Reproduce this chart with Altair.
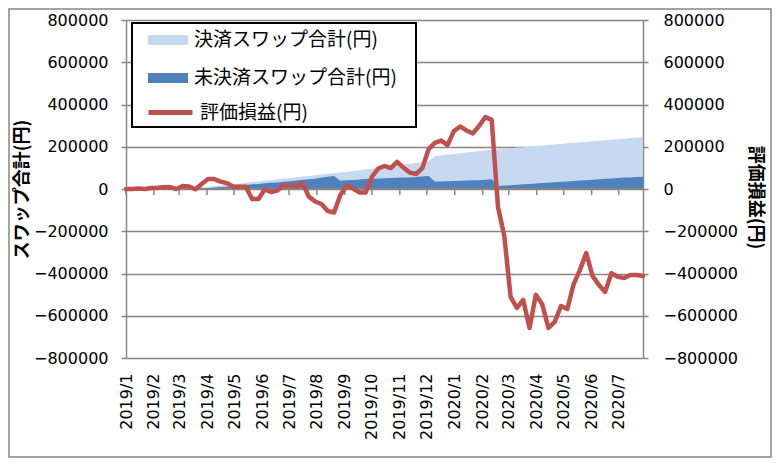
import altair as alt
import pandas as pd

# ---- data (weekly) ----
start_date = "2019-01-01"
n_weeks = 83

settled = [0, 0, 0, 0, 0, 0, 0, 0, 0, 0, 0,
           3000, 6000, 10000, 13000, 16000, 20000, 23000, 26000, 29000, 33000,
           36000, 39000, 42000, 46000, 49000, 52000, 56000, 59000, 62000, 65000,
           69000, 72000, 74000,
           78000, 81000, 85000, 89000, 93000, 96000, 100000, 104000, 108000, 111000,
           115000, 119000, 123000, 126000, 131000, 156000,
           159000, 163000, 166000, 169000, 173000, 176000, 179000, 183000, 186000,
           188000, 191000, 193000, 196000, 198000, 201000, 203000, 206000, 208000,
           211000, 213000, 216000, 218000, 221000, 223000, 226000, 228000, 231000,
           233000, 236000, 238000, 241000, 243000, 246000]

unsettled = [0, 0, 0, 0, 0, 0, 0, 0, 0, 0, 0,
             1000, 3000, 5000, 7000, 9000, 11000, 13000, 16000, 19000, 22000,
             24000, 27000, 29000, 31000, 34000, 37000, 40000, 43000, 46000, 49000,
             54000, 58000, 61000,
             39000, 41000, 43000, 45000, 47000, 49000, 50000, 51000, 52000, 53000,
             54000, 55000, 57000, 59000, 61000,
             35000, 36000, 37000, 38000, 39000, 40000, 41000, 42000, 44000, 46000,
             14000, 16000, 18000, 20000, 22000, 24000, 26000, 28000, 30000, 32000,
             34000, 36000, 38000, 40000, 42000, 44000, 46000, 48000, 50000, 52000,
             54000, 55000, 57000, 58000]

profit = [0, 0, 2000, 0, 5000, 6000, 8000, 9000, 0, 14000,
          12000, -1000, 24000, 47000, 47000, 35000, 28000, 11000, 11000, 11000,
          -47000, -47000, -2000, -14000, -7000, 16000, 16000, 11000, 28000, -36000,
          -59000, -71000, -104000, -111000, -28000, 16000, 2000, -16000, -17000, 57000,
          97000, 109000, 99000, 128000, 102000, 78000, 71000, 99000, 189000, 218000,
          229000, 208000, 274000, 296000, 277000, 263000, 298000, 340000, 327000, -85000,
          -222000, -511000, -563000, -525000, -658000, -501000, -544000, -658000, -629000, -554000,
          -568000, -450000, -383000, -303000, -412000, -454000, -487000, -398000, -416000, -421000,
          -407000, -407000, -412000]

months = [(2019, m) for m in range(1, 13)] + [(2020, m) for m in range(1, 8)]
y_ticks = [-800000, -600000, -400000, -200000, 0, 200000, 400000, 600000, 800000]

SETTLED = "決済スワップ合計(円)"
UNSETTLED = "未決済スワップ合計(円)"
PROFIT = "評価損益(円)"

dates = [d.strftime("%Y-%m-%dT00:00:00Z")
         for d in pd.date_range(start_date, periods=n_weeks, freq="7D")]

df_area = pd.DataFrame({
    "date": dates + dates,
    "value": settled + unsettled,
    "series": [SETTLED] * n_weeks + [UNSETTLED] * n_weeks,
})
df_line = pd.DataFrame({"date": dates, "value": profit, "series": [PROFIT] * n_weeks})
df_months = pd.DataFrame({"date": ["%d-%02d-01T00:00:00Z" % (y, m) for y, m in months]})

GREY = "#868686"
NUM_FONT = "DejaVu Sans"
JP_FONT = "Noto Sans CJK JP"

x_scale = alt.Scale(type="utc",
                    domain=[alt.DateTime(year=2019, month=1, date=1, utc=True),
                            alt.DateTime(year=2020, month=7, date=28, utc=True)])
x_axis = alt.Axis(values=[alt.DateTime(year=y, month=m, date=1, utc=True) for y, m in months],
                  labelExpr="utcFormat(datum.value, '%Y/%-m')",
                  labelAngle=270, labelAlign="right", labelBaseline="middle",
                  labelFont=NUM_FONT, labelFontSize=16, labelColor="black",
                  labelPadding=15, ticks=False, tickSize=0, domain=False, grid=False,
                  title="", labelOverlap=False)
x_enc = alt.X("date:T", scale=x_scale, axis=x_axis)

y_scale_l = alt.Scale(domain=[-800000, 800000], nice=False)
y_scale_r = alt.Scale(domain=[-800000, 800000], nice=False)

left_axis = alt.Axis(title="スワップ合計(円)", values=y_ticks, format="d",
                     grid=True, gridColor=GREY, gridWidth=1.5,
                     domainColor=GREY, domainWidth=1.5,
                     tickColor=GREY, tickSize=5, tickWidth=1.5,
                     labelPadding=13, labelFont=NUM_FONT, labelFontSize=16, labelColor="black",
                     titleFont=JP_FONT, titleFontSize=18, titleFontWeight="bold",
                     titleColor="black", titleX=-104, titleY=169, titleAngle=270,
                     titleAlign="center", titleBaseline="middle")
right_axis = alt.Axis(title="評価損益(円)", orient="right", values=y_ticks, format="d",
                      grid=False, domainColor=GREY, domainWidth=1.5,
                      tickColor=GREY, tickSize=5, tickWidth=1.5,
                      labelPadding=15, labelFont=NUM_FONT, labelFontSize=16, labelColor="black",
                      titleFont=JP_FONT, titleFontSize=18, titleFontWeight="bold",
                      titleColor="black", titleX=111, titleY=177, titleAngle=90,
                      titleAlign="center", titleBaseline="middle")

fill_scale = alt.Scale(domain=[SETTLED, UNSETTLED], range=["#C6D9F1", "#4F81BD"])
fill_legend = alt.Legend(title=None, orient="none", legendX=22, legendY=0, padding=0,
                         symbolType="M-1,-0.25H1V0.25H-1Z", symbolSize=1600,
                         symbolStrokeWidth=0, symbolOpacity=1,
                         labelFont=JP_FONT, labelFontSize=19, labelColor="black",
                         labelOffset=6, labelLimit=400, rowPadding=8)

base_area = alt.Chart(df_area).mark_area(opacity=1).encode(
    x=x_enc,
    y=alt.Y("value:Q", scale=y_scale_l, axis=left_axis),
    fill=alt.Fill("series:N", scale=fill_scale, legend=fill_legend),
)
area_settled = base_area.transform_filter(alt.datum.series == SETTLED)
area_unsettled = base_area.transform_filter(alt.datum.series == UNSETTLED)

zero_rule = alt.Chart(df_months).mark_rule(color=GREY, strokeWidth=1.5).encode(
    y=alt.datum(0, type="quantitative"))

month_ticks = alt.Chart(df_months).mark_tick(
    orient="vertical", color=GREY, size=6, thickness=1.5, yOffset=3, opacity=1
).encode(x=x_enc, y=alt.datum(0, type="quantitative"))

legend_box = alt.Chart(alt.Data(values=[{"k": 1}])).mark_rect(
    fill="white", stroke="black", strokeWidth=2
).encode(x=alt.value(6), x2=alt.value(290), y=alt.value(3), y2=alt.value(107))

frame = alt.Chart(alt.Data(values=[{"k": 1}])).mark_rect(
    fillOpacity=0, stroke=GREY, strokeWidth=1.5
).encode(x=alt.value(-117), x2=alt.value(645), y=alt.value(-11), y2=alt.value(437))

left_group = alt.layer(area_settled, area_unsettled, zero_rule, month_ticks, legend_box, frame)

stroke_legend = alt.Legend(title=None, orient="none", legendX=20, legendY=68, padding=0,
                           symbolType="stroke", symbolSize=1936, symbolStrokeWidth=5,
                           labelFont=JP_FONT, labelFontSize=19, labelColor="black",
                           labelOffset=5, labelLimit=400)

line = alt.Chart(df_line).mark_line(strokeWidth=4.5, strokeJoin="round", strokeCap="round").encode(
    x=x_enc,
    y=alt.Y("value:Q", scale=y_scale_r, axis=right_axis),
    stroke=alt.Stroke("series:N", scale=alt.Scale(domain=[PROFIT], range=["#C0504D"]),
                      legend=stroke_legend),
)

chart = alt.layer(left_group, line).resolve_scale(y="independent").properties(
    width=517, height=338,
    autosize=alt.AutoSizeParams(type="none"),
    padding={"left": 118, "top": 12, "right": 129, "bottom": 100},
    background="white",
).configure_view(strokeWidth=0)

chart.save("out.html", embed_options={"renderer": "svg", "actions": False})
